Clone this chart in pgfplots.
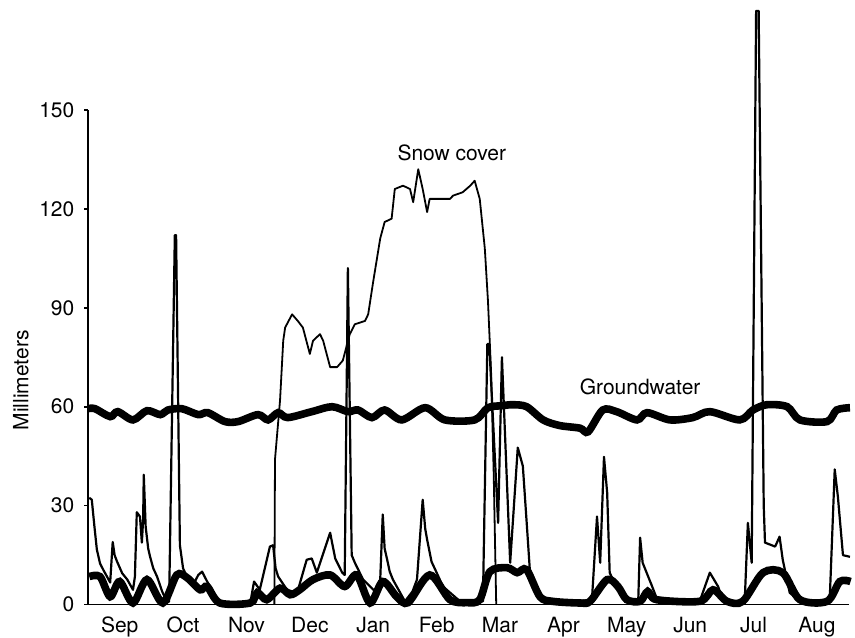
\documentclass[border=0pt]{standalone}
\usepackage{pgfplots}
\pgfplotsset{compat=1.18}
\usepackage{fontspec}
\setmainfont{TeX Gyre Heros}
\begin{document}
\begin{tikzpicture}
\begin{axis}[
  scale only axis,
  width=380.5pt, height=247.5pt,
  xmin=0, xmax=12, ymin=0, ymax=150,
  axis x line=bottom, axis y line=left,
  axis line style={-, line width=0.8pt},
  clip=false,
  xtick={0.5,1.5,...,11.5},
  xticklabels={Sep,Oct,Nov,Dec,Jan,Feb,Mar,Apr,May,Jun,Jul,Aug},
  ytick={0,30,60,90,120,150},
  x tick style={draw=none},
  y tick style={line width=0.8pt, black},
  tick align=outside,
  major tick length=1.8pt,
  /pgf/number format/assume math mode=true,
  tick label style={font=\fontsize{10.5}{12}\selectfont},
  xticklabel style={yshift=-1pt},
  yticklabel style={xshift=-1.5pt},
]
% Groundwater
\addplot[black, line width=3.8pt, smooth, tension=0.5] coordinates {
(0,59.4)(0.11,59.4)(0.35,57)(0.47,58.5)(0.71,56)(0.93,58.8)(1.14,57.6)(1.26,59)
(1.48,59.4)(1.74,57.6)(1.89,58.2)(2.16,55.5)(2.37,55.5)(2.68,57.6)(2.84,56)(3.00,58.2)
(3.15,56.7)(3.53,58.5)(3.85,60)(4.10,58.5)(4.26,59)(4.48,56.7)(4.68,59)(4.95,56)
(5.32,59.7)(5.63,56)(6.10,56)(6.31,59.7)(6.53,60.3)(6.70,60.6)(6.92,60)(7.18,56)
(7.44,54.3)(7.76,53.5)(7.89,52.4)(8.12,59)(8.34,58.5)(8.66,56)(8.82,58.2)(9.18,56)
(9.54,56.7)(9.81,58.5)(10.28,56)(10.49,59)(10.71,60.6)(11.03,60)(11.23,56)(11.66,55.5)
(11.81,59)(12.02,59.7)};
% lower thick series
\addplot[black, line width=3.8pt, smooth, tension=0.5] coordinates {
(0.02,8.5)(0.19,8.5)(0.35,2.4)(0.50,7)(0.71,0.5)(0.93,7.6)(1.18,0.5)(1.40,9)(1.56,8.2)
(1.77,4.5)(1.88,5.5)(2.08,0.5)(2.56,0.5)(2.67,3.6)(2.82,1.5)(3.03,5)(3.19,3)(3.34,4.5)
(3.55,7.6)(3.82,9)(4.05,5.5)(4.24,9)(4.45,0.5)(4.65,7)(4.87,2.4)(5.05,0.6)(5.39,9)
(5.71,1.5)(5.98,0.6)(6.18,1.5)(6.34,10)(6.61,11.2)(6.77,9.7)(6.92,10.6)(7.13,2.4)
(7.33,1)(7.76,0.5)(7.92,1)(8.19,7.6)(8.36,5.5)(8.50,1.5)(8.71,1)(8.83,4)(8.97,1.5)
(9.65,1)(9.86,4.5)(10.08,1)(10.33,1)(10.65,9.7)(10.96,9.7)(11.23,1.5)(11.66,1)
(11.86,7)(12.03,7)};
% thin spiky series
\addplot[black, line width=1.1pt, line join=round] coordinates {
(0.02,32.4)(0.06,31.8)(0.10,24)(0.14,16.7)(0.19,12.5)(0.24,10.6)(0.30,8.5)(0.35,6.7)
(0.39,19)(0.42,15)(0.46,13)(0.54,9.5)(0.62,7.6)
(0.71,4.5)(0.74,8.5)(0.77,28)(0.82,26.7)(0.85,18.8)(0.87,25.8)(0.88,39.4)(0.91,23.6)
(0.95,17)(0.98,14.5)(1.03,11)(1.09,8.5)(1.17,4)(1.25,0.6)(1.28,1)(1.37,112)(1.39,112)
(1.45,18)(1.50,11)(1.56,8.5)
(1.66,6)(1.74,9)(1.80,10)(1.88,7)(2.0,3)(2.08,0.5)(2.56,0.5)(2.62,7)(2.71,4.5)
(2.87,17.6)(2.92,18)(2.96,11)(3.0,8.5)(3.14,4.5)(3.30,3.6)(3.45,13.6)(3.53,14)(3.61,9.7)
(3.82,21.8)(3.90,14)(4.01,9.7)(4.05,9)(4.10,102)(4.16,15)(4.21,12.7)(4.34,7.6)(4.53,4)
(4.61,7.6)(4.65,27.3)(4.68,17)(4.72,13.6)(4.76,10)(4.81,7.6)(5.0,1)(5.12,4)(5.19,7.6)
(5.28,31.8)(5.32,23)(5.35,19.7)(5.42,13)
(5.50,9.7)(5.60,5.5)(5.87,1)(6.23,1)(6.30,79)(6.33,79)(6.47,24.8)(6.53,75)(6.66,12.7)
(6.78,47.6)(6.86,42)(6.92,25)(6.97,10.6)(7.13,2.4)(7.44,0.5)(7.95,1.5)(8.03,26.7)(8.08,12.7)
(8.14,44.8)(8.19,34)(8.23,9.7)(8.28,7.6)(8.47,1)(8.68,1)(8.71,20.3)(8.75,12.7)
(8.90,5.5)(8.99,1)(9.65,1)(9.81,9.7)(9.94,5.5)(10.02,1)(10.36,1)(10.41,24.8)
(10.47,12.7)(10.54,180)(10.58,180)(10.66,30)(10.68,18.8)(10.84,17.6)(10.91,20.6)
(10.96,13.6)(11.07,3.6)(11.23,1)(11.70,1)(11.78,41)(11.83,32.7)(11.91,15)(12.02,14.5)};
% Snow cover
\addplot[black, line width=0.9pt, line join=round] coordinates {
(2.94,0)(2.95,44)(3.03,62)(3.08,80)(3.11,84)(3.22,88)(3.31,86)(3.39,84)(3.50,76)
(3.55,80)(3.66,82)(3.71,80)(3.82,72)(3.93,72)(4.02,74)(4.13,82)(4.21,85)(4.37,86)
(4.42,88)(4.50,98)(4.61,111)(4.68,116)(4.79,117)(4.84,126)(4.97,127)(5.08,126)
(5.13,122)(5.21,132)(5.28,126)(5.35,119)(5.39,123)(5.71,123)(5.76,124)(5.91,125)
(6.03,127)(6.10,128.5)(6.18,123)(6.26,108)(6.31,92)(6.36,70)(6.40,40)(6.44,0)};
\node[font=\fontsize{10.5}{12}\selectfont] at (axis cs:5.74,137) {Snow cover};
\node[font=\fontsize{10.5}{12}\selectfont] at (axis cs:8.71,66) {Groundwater};
\node[font=\fontsize{10.5}{12}\selectfont, rotate=90] at (axis cs:-1.06,68) {Millimeters};
\coordinate (bbsw) at (axis cs:-1.388,-10);
\coordinate (bbne) at (axis cs:12.10,183.3);
\end{axis}
\pgfresetboundingbox
\path (bbsw) rectangle (bbne);
\end{tikzpicture}
\end{document}
